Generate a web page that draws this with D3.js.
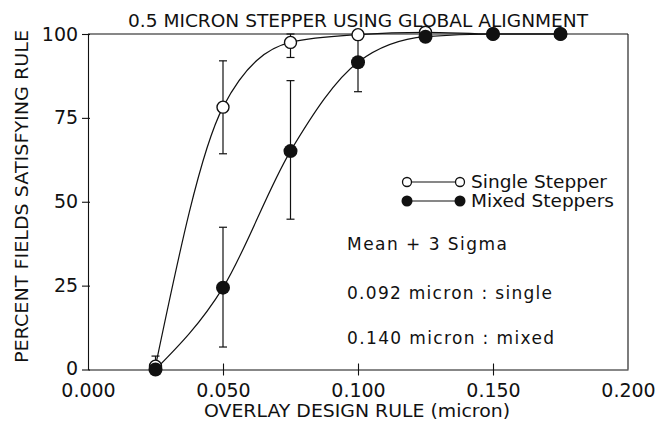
<!DOCTYPE html>
<html><head><meta charset="utf-8">
<script src="https://cdn.jsdelivr.net/npm/d3@7"></script>
<style>body{margin:0;background:#fff}text{font-family:"DejaVu Sans",sans-serif;fill:#111}</style>
</head><body><svg id="c" width="668" height="430"></svg>
<script>
const xVals = [0.025, 0.050, 0.075, 0.100, 0.125, 0.150, 0.175];
const singleVals = [1, 78.2, 97.5, 99.8, 100.5, 100, 100];
const mixedVals = [0, 24.4, 65.1, 91.6, 99.2, 100, 100];
const singleErrX = [0.025, 0.050, 0.075];
const singleErrLo = [0, 64.3, 93];
const singleErrHi = [4, 92, 100];
const mixedErrX = [0.050, 0.075, 0.100];
const mixedErrLo = [6.7, 44.8, 82.8];
const mixedErrHi = [42.4, 86.1, 100];
const xTicks = [0, 0.05, 0.1, 0.15, 0.2];
const yTicks = [0, 25, 50, 75, 100];
const title = "0.5 MICRON STEPPER USING GLOBAL ALIGNMENT";
const xLabel = "OVERLAY DESIGN RULE (micron)";
const yLabel = "PERCENT FIELDS SATISFYING RULE";
const legendNames = ["Single Stepper", "Mixed Steppers"];
const notes = ["Mean + 3 Sigma", "0.092 micron : single", "0.140 micron : mixed"];

const svg = d3.select("#c");
const x = d3.scaleLinear().domain([0, 0.2]).range([88, 628]);
const y = d3.scaleLinear().domain([0, 100]).range([369.5, 34]);
const ink = "#111";

svg.append("line").attr("x1", x(0)).attr("x2", x(0.2)).attr("y1", y(100)).attr("y2", y(100)).attr("stroke", ink).attr("stroke-width", 1.1);
svg.append("line").attr("x1", x(0.2)).attr("x2", x(0.2)).attr("y1", y(100)).attr("y2", y(0)).attr("stroke", ink).attr("stroke-width", 1.1);

const xAxis = svg.append("g").attr("transform", `translate(0,${y(0)})`)
  .call(d3.axisBottom(x).tickValues(xTicks).tickFormat(d3.format(".3f")).tickSizeInner(6).tickSizeOuter(0));
xAxis.selectAll(".tick line").attr("y1", -6);
xAxis.selectAll(".tick").filter(d => d === 0 || d === 0.2).select("line").remove();
const yAxis = svg.append("g").attr("transform", `translate(${x(0)},0)`)
  .call(d3.axisLeft(y).tickValues(yTicks).tickSizeInner(6).tickSizeOuter(0));
yAxis.selectAll(".tick line").attr("x1", 2);
[xAxis, yAxis].forEach(g => {
  g.select(".domain").attr("stroke", ink).attr("stroke-width", 1.1);
  g.selectAll(".tick line").attr("stroke", ink).attr("stroke-width", 1.1);
  g.selectAll("text").attr("font-size", 19).attr("font-family", "DejaVu Sans").attr("fill", ink);
});
xAxis.selectAll("text").attr("dy", "0.96em");
yAxis.selectAll("text").attr("dx", "-0.05em");
yAxis.selectAll(".tick").filter(d => d === 0).select("text").attr("dy", "0.24em");

svg.append("text").attr("x", 128).attr("y", 27).attr("font-size", 17)
  .attr("textLength", 460).attr("lengthAdjust", "spacingAndGlyphs").text(title);
svg.append("text").attr("x", 204).attr("y", 417).attr("font-size", 17)
  .attr("textLength", 306).attr("lengthAdjust", "spacingAndGlyphs").text(xLabel);
svg.append("text").attr("transform", `translate(28,363) rotate(-90)`).attr("font-size", 17)
  .attr("textLength", 333).attr("lengthAdjust", "spacingAndGlyphs").text(yLabel);

const line = d3.line().x(d => x(d[0])).y(d => y(d[1])).curve(d3.curveMonotoneX);
const sData = xVals.map((v, i) => [v, singleVals[i]]);
const mData = xVals.map((v, i) => [v, mixedVals[i]]);
svg.append("path").attr("d", line(sData)).attr("fill", "none").attr("stroke", ink).attr("stroke-width", 1.2);
svg.append("path").attr("d", line(mData)).attr("fill", "none").attr("stroke", ink).attr("stroke-width", 1.2);

function errBars(xs, lo, hi) {
  xs.forEach((v, i) => {
    const g = svg.append("g").attr("stroke", ink).attr("stroke-width", 1.2);
    g.append("line").attr("x1", x(v)).attr("x2", x(v)).attr("y1", y(lo[i])).attr("y2", y(hi[i]));
    g.append("line").attr("x1", x(v) - 4).attr("x2", x(v) + 4).attr("y1", y(lo[i])).attr("y2", y(lo[i]));
    g.append("line").attr("x1", x(v) - 4).attr("x2", x(v) + 4).attr("y1", y(hi[i])).attr("y2", y(hi[i]));
  });
}
errBars(singleErrX, singleErrLo, singleErrHi);
errBars(mixedErrX, mixedErrLo, mixedErrHi);

svg.append("g").selectAll("circle").data(sData).join("circle").attr("cx", d => x(d[0])).attr("cy", d => y(d[1])).attr("r", 6).attr("fill", "#fff").attr("stroke", ink).attr("stroke-width", 1.4);
svg.append("g").selectAll("circle").data(mData).join("circle").attr("cx", d => x(d[0])).attr("cy", d => y(d[1])).attr("r", 7).attr("fill", ink);

const lg = svg.append("g");
[0, 1].forEach(i => {
  const yy = 182 + i * 19;
  lg.append("line").attr("x1", 407).attr("x2", 460).attr("y1", yy).attr("y2", yy).attr("stroke", ink).attr("stroke-width", 1.1);
  [407, 460].forEach(cx => {
    const c = lg.append("circle").attr("cx", cx).attr("cy", yy).attr("r", i === 0 ? 4.5 : 5.5);
    if (i === 0) c.attr("fill", "#fff").attr("stroke", ink).attr("stroke-width", 1.3); else c.attr("fill", ink);
  });
  lg.append("text").attr("x", 471).attr("y", yy + 6).attr("font-size", 17)
    .attr("textLength", [136, 143][i]).attr("lengthAdjust", "spacingAndGlyphs").text(legendNames[i]);
});
notes.forEach((t, i) => {
  svg.append("text").attr("x", 347).attr("y", [250, 299, 344][i]).attr("font-size", 17)
    .attr("textLength", [160, 205, 207][i]).attr("lengthAdjust", "spacing").text(t);
});
</script></body></html>
